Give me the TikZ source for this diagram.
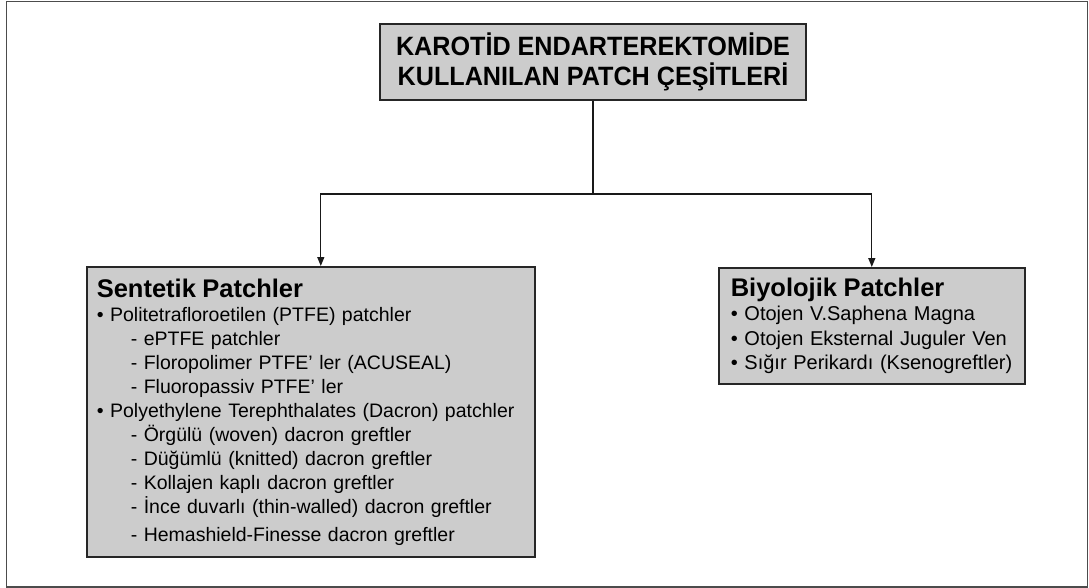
\documentclass[tikz,border=0pt]{standalone}
\usepackage{fontspec}
\setmainfont{Liberation Sans}
\newfontfamily\titlefont{Liberation Sans}[FakeStretch=0.95]
\usepackage{tikz}
\usetikzlibrary{arrows.meta,positioning}

\begin{document}
\begin{tikzpicture}[x=1pt, y=1pt,
        PBox/.style={rectangle, draw=black!85, fill=black!20, line width=1.6pt, inner ysep=0pt},  % patch boxes
        Link/.style={line width=1.3pt, draw=black!90},
    ]
        \useasboundingbox (0,0) rectangle (1089,-588);
        \draw[line width=1.4pt, draw=black!70] (6.5,-1.5) rectangle (1087.5,-587);

        %Nodes
        \node[PBox, minimum width=426pt, minimum height=76pt, align=center,
              font=\titlefont\fontsize{26.5}{30}\selectfont\bfseries] (Title) at (593,-62)
              {KAROTİD ENDARTEREKTOMİDE\\KULLANILAN PATCH ÇEŞİTLERİ};
        \coordinate (Split) at (593,-194);
        \node[PBox, anchor=north west, text width=428pt, inner xsep=10pt, minimum height=290pt, align=left,
              font=\fontsize{19.5}{24}\selectfont] (Sentetik) at (86,-266)
              {{\fontsize{25.5}{27}\selectfont\bfseries Sentetik Patchler}\\
              • Politetrafloroetilen (PTFE) patchler\\
              \hspace*{34pt}- ePTFE patchler\\
              \hspace*{34pt}- Floropolimer PTFE’ ler (ACUSEAL)\\
              \hspace*{34pt}- Fluoropassiv PTFE’ ler\\
              • Polyethylene Terephthalates (Dacron) patchler\\
              \hspace*{34pt}- Örgülü (woven) dacron greftler\\
              \hspace*{34pt}- Düğümlü (knitted) dacron greftler\\
              \hspace*{34pt}- Kollajen kaplı dacron greftler\\
              \hspace*{34pt}- İnce duvarlı (thin-walled) dacron greftler\\[4pt]
              \hspace*{34pt}- Hemashield-Finesse dacron greftler};
        \node[PBox, anchor=north west, text width=282pt, inner xsep=12pt, minimum height=116pt, align=left,
              font=\fontsize{20}{24.5}\selectfont] (Biyolojik) at (718,-267)
              {{\fontsize{25.5}{27}\selectfont\bfseries Biyolojik Patchler}\\
              • Otojen V.Saphena Magna\\
              • Otojen Eksternal Juguler Ven\\
              • Sığır Perikardı (Ksenogreftler)};
        \coordinate (SentetikIn) at ([xshift=10pt]Sentetik.north);

        %Lines
        \draw[Link] (Title.south) -- (Split);
        \draw[Link, -{Triangle[length=9pt, width=7pt]}] (Split) -| (SentetikIn);
        \draw[Link, -{Triangle[length=9pt, width=7pt]}] (Split) -| (Biyolojik.north);
    \end{tikzpicture}
\end{document}
